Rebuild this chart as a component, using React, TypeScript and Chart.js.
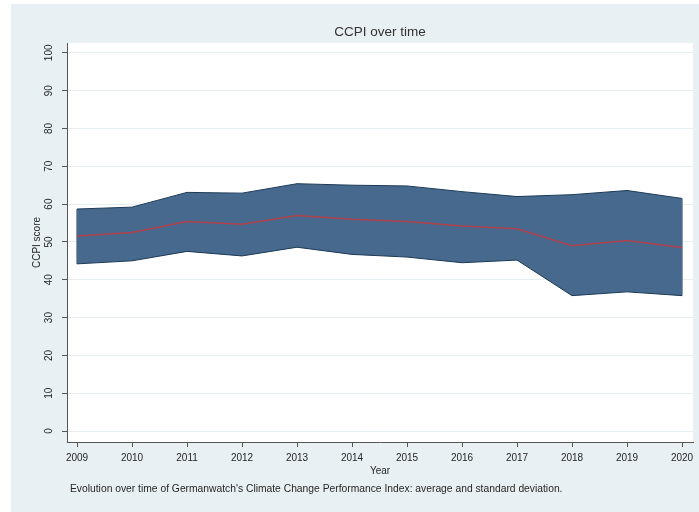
import { useEffect, useRef } from "react";
import { Chart, registerables } from "chart.js";

Chart.register(...registerables);

// CCPI score: yearly average and the band of one standard deviation around it
const years = [2009, 2010, 2011, 2012, 2013, 2014, 2015, 2016, 2017, 2018, 2019, 2020];
const upperBand = [58.7, 59.2, 63.1, 62.9, 65.4, 65.0, 64.8, 63.3, 62.0, 62.5, 63.6, 61.5];
const meanScore = [51.6, 52.5, 55.4, 54.7, 57.0, 56.0, 55.4, 54.2, 53.5, 49.0, 50.4, 48.5];
const lowerBand = [44.2, 45.0, 47.5, 46.3, 48.6, 46.7, 46.0, 44.5, 45.2, 35.8, 36.8, 35.8];
const yTicks = [0, 10, 20, 30, 40, 50, 60, 70, 80, 90, 100];

const FONT = "'Liberation Sans', Arial, Helvetica, sans-serif";
const PANEL_BG = "#e9f0f3";
const BAND_FILL = "#46698d";
const BAND_EDGE = "#1c3a58";
const MEAN_COLOR = "#b0404c";
const AXIS_COLOR = "#555555";
const GRID_COLOR = "#e7eef1";
const TEXT_COLOR = "#262626";

const toPoints = (ys: number[]) => years.map((x, i) => ({ x, y: ys[i] }));

const plotAreaBackground = {
  id: "plotAreaBackground",
  beforeDraw(chart: Chart) {
    const { ctx, chartArea } = chart;
    ctx.save();
    ctx.fillStyle = "#ffffff";
    ctx.fillRect(chartArea.left, chartArea.top, chartArea.right - chartArea.left, chartArea.bottom - chartArea.top);
    ctx.restore();
  },
};

export default function App() {
  const canvasRef = useRef<HTMLCanvasElement | null>(null);

  useEffect(() => {
    const canvas = canvasRef.current;
    if (!canvas) return;
    const last = years.length - 1;
    const edgeLine = {
      borderColor: BAND_EDGE,
      borderWidth: 1,
      pointRadius: 0,
      fill: false,
    };
    // The first dataset is painted last, so the mean line sits on top of the band.
    const chart = new Chart(canvas, {
      type: "line",
      data: {
        datasets: [
          {
            label: "mean",
            data: toPoints(meanScore),
            borderColor: MEAN_COLOR,
            borderWidth: 1.5,
            pointRadius: 0,
            fill: false,
          },
          { ...edgeLine, label: "lower", data: toPoints(lowerBand) },
          {
            label: "upper",
            data: toPoints(upperBand),
            borderColor: BAND_EDGE,
            borderWidth: 1,
            pointRadius: 0,
            backgroundColor: BAND_FILL,
            fill: "-1",
          },
          {
            ...edgeLine,
            label: "start",
            data: [
              { x: years[0], y: lowerBand[0] },
              { x: years[0], y: upperBand[0] },
            ],
          },
          {
            ...edgeLine,
            label: "end",
            data: [
              { x: years[last], y: lowerBand[last] },
              { x: years[last], y: upperBand[last] },
            ],
          },
        ],
      },
      options: {
        responsive: false,
        animation: false,
        devicePixelRatio: 1,
        layout: { padding: { left: 0, right: 6, top: 0, bottom: 31 } },
        elements: { line: { tension: 0 } },
        plugins: {
          legend: { display: false },
          tooltip: { enabled: false },
          title: {
            display: true,
            fullSize: false,
            text: "CCPI over time",
            color: "#333333",
            font: { family: FONT, size: 13.5, weight: "normal" },
            padding: { top: 20, bottom: 2.8 },
          },
        },
        scales: {
          x: {
            type: "linear",
            min: 2008.818,
            max: 2020.2,
            afterBuildTicks: (axis: any) => {
              axis.ticks = years.map((v) => ({ value: v }));
            },
            afterFit: (axis: any) => {
              axis.height = 39;
            },
            ticks: {
              autoSkip: false,
              maxRotation: 0,
              minRotation: 0,
              padding: 5,
              color: TEXT_COLOR,
              font: { family: FONT, size: 10 },
              callback: (v: any) => String(v),
            },
            grid: {
              drawOnChartArea: false,
              drawTicks: true,
              tickLength: 5,
              tickColor: AXIS_COLOR,
              color: AXIS_COLOR,
            },
            border: { display: true, color: AXIS_COLOR, width: 1 },
            title: {
              display: true,
              text: "Year",
              color: TEXT_COLOR,
              font: { family: FONT, size: 10 },
              padding: { top: 0, bottom: 4 },
            },
          },
          y: {
            type: "linear",
            min: -2.9,
            max: 102.6,
            afterBuildTicks: (axis: any) => {
              axis.ticks = yTicks.map((v) => ({ value: v }));
            },
            afterFit: (axis: any) => {
              axis.width = 56;
            },
            ticks: {
              autoSkip: false,
              minRotation: 90,
              maxRotation: 90,
              crossAlign: "center",
              padding: 4,
              color: TEXT_COLOR,
              font: { family: FONT, size: 10 },
              callback: (v: any) => String(v),
            },
            grid: {
              color: GRID_COLOR,
              lineWidth: 1,
              drawTicks: true,
              tickLength: 5,
              tickColor: AXIS_COLOR,
            },
            border: { display: true, color: AXIS_COLOR, width: 1 },
            title: {
              display: true,
              text: "CCPI score",
              color: TEXT_COLOR,
              font: { family: FONT, size: 10 },
              padding: { top: 20, bottom: 0 },
            },
          },
        },
      },
      plugins: [plotAreaBackground],
    } as any);
    return () => chart.destroy();
  }, []);

  return (
    <div style={{ position: "absolute", left: 0, top: 0, width: 699, height: 512, background: "#ffffff", overflow: "hidden" }}>
      <div style={{ position: "absolute", left: 11, top: 4, width: 688, height: 508, background: PANEL_BG }}>
        <canvas ref={canvasRef} width={688} height={508} style={{ display: "block" }} />
        <div
          style={{
            position: "absolute",
            left: 59,
            top: 478,
            fontFamily: FONT,
            fontSize: 10.3,
            color: TEXT_COLOR,
            whiteSpace: "nowrap",
            lineHeight: "14px",
          }}
        >
          Evolution over time of Germanwatch's Climate Change Performance Index: average and standard deviation.
        </div>
      </div>
    </div>
  );
}
